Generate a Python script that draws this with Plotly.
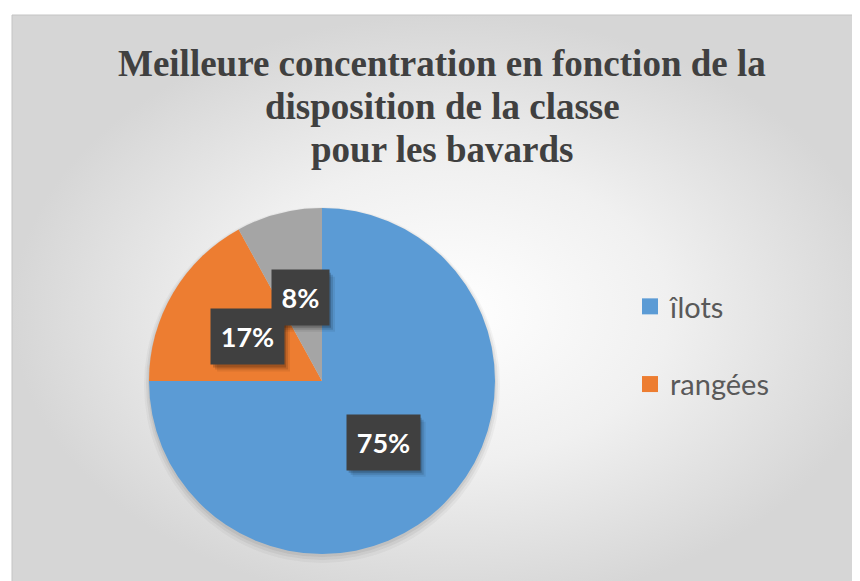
import math
import plotly.graph_objects as go

# ---- data ----
title_lines = ["Meilleure concentration en fonction de la",
               "disposition de la classe",
               "pour les bavards"]
categories = ["îlots", "rangées", "autres"]
values = [75, 17, 8]
legend_categories = ["îlots", "rangées"]
colors = ["#5B9BD5", "#ED7D31", "#A5A5A5"]

# ---- layout constants (reference pixel coords; page body has an 8px margin) ----
W, H = 860, 581
OFF = 8
cx, cy, R = 322 - OFF, 381 - OFF, 173  # pie centre / radius in figure px

fig = go.Figure()

# background panel with radial gradient
fig.add_trace(go.Scatter(
    x=[12 - OFF, W + 20, W + 20, 12 - OFF, 12 - OFF],
    y=[15 - OFF, 15 - OFF, H + 20, H + 20, 15 - OFF],
    fill="toself", mode="lines", line=dict(width=0, color="rgba(0,0,0,0)"),
    fillgradient=dict(type="radial",
                      colorscale=[[0, "#ffffff"], [0.5, "#f0f0f0"], [1, "#d6d6d6"]]),
    hoverinfo="skip", showlegend=False))

# soft shadow under the pie
for dr, dy, a in [(5, 4, 0.035), (3, 3, 0.05), (1, 2, 0.06)]:
    rr = R + dr
    fig.add_trace(go.Pie(
        labels=["ombre"], values=[1], sort=False, textinfo="none",
        showlegend=False, hoverinfo="skip",
        marker=dict(colors=[f"rgba(0,0,0,{a})"], line=dict(width=0)),
        domain=dict(x=[(cx - rr) / W, (cx + rr) / W],
                    y=[(H - cy - dy - rr) / H, (H - cy - dy + rr) / H])))

# pie
fig.add_trace(go.Pie(
    labels=categories, values=values, sort=False, direction="clockwise",
    rotation=0,
    marker=dict(colors=colors, line=dict(width=0)),
    textinfo="none", showlegend=False, hoverinfo="label+percent",
    domain=dict(x=[(cx - R) / W, (cx + R) / W],
                y=[(H - cy - R) / H, (H - cy + R) / H])))

# legend entries
for i, name in enumerate(legend_categories):
    fig.add_trace(go.Scatter(
        x=[None], y=[None], mode="markers", name=name, legendgroup=name,
        marker=dict(symbol="square", size=18, color=colors[i])))

annotations = []
shapes = []

# title lines
title_centres = [63, 106, 149]
for line, yc in zip(title_lines, title_centres):
    annotations.append(dict(
        x=442 - OFF, y=yc - OFF, xref="x", yref="y", showarrow=False, text=line,
        xanchor="center", yanchor="middle",
        font=dict(family="Liberation Serif", size=37, color="#404040", weight="bold")))

# data labels (dark boxes) placed at half radius on each slice's mid-angle
PAD = 10
total = sum(values)
cum = 0
for v in values:
    mid = (cum + v / 2) / total * 2 * math.pi
    cum += v
    x = cx + 0.5 * R * math.sin(mid)
    y = cy - 0.5 * R * math.cos(mid)
    txt = f"{round(v / total * 100)}%"
    iw, ih = 16 * len(txt) + 5, 35
    hw, hh = iw / 2 + PAD, ih / 2 + PAD
    # soft drop shadow (bottom-right)
    for sx, sy, a in [(6, 7, 0.07), (4, 5, 0.12), (2, 3, 0.18)]:
        shapes.append(dict(type="rect", xref="x", yref="y",
                           x0=x - hw + sx, x1=x + hw + sx, y0=y - hh + sy, y1=y + hh + sy,
                           line=dict(width=0), fillcolor=f"rgba(0,0,0,{a})", layer="above"))
    annotations.append(dict(
        x=x, y=y, xref="x", yref="y", showarrow=False, text=txt,
        width=iw, height=ih, borderpad=PAD, bgcolor="#404040",
        font=dict(family="Lato", size=27, weight="bold", color="white")))

# legend panel and chart border
shapes.append(dict(type="rect", xref="x", yref="y", x0=610 - OFF, y0=290 - OFF,
                   x1=803 - OFF, y1=441 - OFF, line=dict(width=0),
                   fillcolor="rgba(255,255,255,0.22)", layer="below"))
shapes.append(dict(type="rect", xref="x", yref="y", x0=12 - OFF, y0=15 - OFF,
                   x1=W + 20, y1=H + 20, line=dict(color="#c4c4c4", width=1),
                   layer="above"))

fig.update_layout(
    width=W, height=H, margin=dict(l=0, r=0, t=0, b=0),
    paper_bgcolor="white", plot_bgcolor="rgba(0,0,0,0)",
    xaxis=dict(range=[0, W], visible=False, fixedrange=True),
    yaxis=dict(range=[H, 0], visible=False, fixedrange=True),
    showlegend=True,
    legend=dict(x=622 / W, y=1 - 273 / H, xanchor="left", yanchor="top",
                font=dict(family="Lato", size=29, color="#595959"),
                tracegroupgap=37, bgcolor="rgba(0,0,0,0)",
                itemsizing="trace"),
    annotations=annotations,
    shapes=shapes,
)

fig.write_html("out.html")
